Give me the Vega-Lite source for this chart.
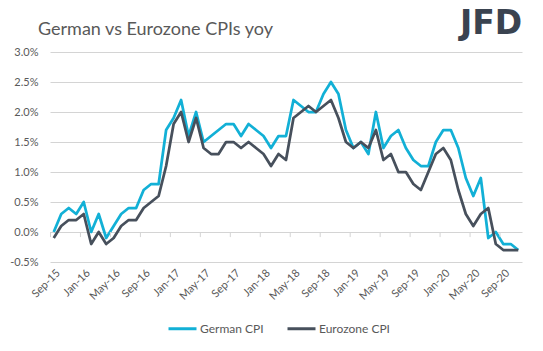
{
  "$schema": "https://vega.github.io/schema/vega-lite/v6.json",
  "width": 472,
  "height": 210,
  "autosize": {"type": "none"},
  "padding": {"left": 50, "top": 52, "right": 21, "bottom": 89},
  "background": "white",
  "title": {
    "text": "German vs Eurozone CPIs yoy",
    "anchor": "start",
    "frame": "group",
    "dx": -12,
    "dy": 49,
    "offset": 18,
    "font": "Lato",
    "fontSize": 18,
    "fontWeight": "normal",
    "color": "#595959"
  },
  "config": {"view": {"stroke": null}},
  "resolve": {"axis": {"x": "independent", "y": "independent"}},
  "datasets": {
    "cpi": [
      {"month": "Sep-15", "series": "German CPI", "value": 0.0},
      {"month": "Oct-15", "series": "German CPI", "value": 0.3},
      {"month": "Nov-15", "series": "German CPI", "value": 0.4},
      {"month": "Dec-15", "series": "German CPI", "value": 0.3},
      {"month": "Jan-16", "series": "German CPI", "value": 0.5},
      {"month": "Feb-16", "series": "German CPI", "value": 0.0},
      {"month": "Mar-16", "series": "German CPI", "value": 0.3},
      {"month": "Apr-16", "series": "German CPI", "value": -0.1},
      {"month": "May-16", "series": "German CPI", "value": 0.1},
      {"month": "Jun-16", "series": "German CPI", "value": 0.3},
      {"month": "Jul-16", "series": "German CPI", "value": 0.4},
      {"month": "Aug-16", "series": "German CPI", "value": 0.4},
      {"month": "Sep-16", "series": "German CPI", "value": 0.7},
      {"month": "Oct-16", "series": "German CPI", "value": 0.8},
      {"month": "Nov-16", "series": "German CPI", "value": 0.8},
      {"month": "Dec-16", "series": "German CPI", "value": 1.7},
      {"month": "Jan-17", "series": "German CPI", "value": 1.9},
      {"month": "Feb-17", "series": "German CPI", "value": 2.2},
      {"month": "Mar-17", "series": "German CPI", "value": 1.6},
      {"month": "Apr-17", "series": "German CPI", "value": 2.0},
      {"month": "May-17", "series": "German CPI", "value": 1.5},
      {"month": "Jun-17", "series": "German CPI", "value": 1.6},
      {"month": "Jul-17", "series": "German CPI", "value": 1.7},
      {"month": "Aug-17", "series": "German CPI", "value": 1.8},
      {"month": "Sep-17", "series": "German CPI", "value": 1.8},
      {"month": "Oct-17", "series": "German CPI", "value": 1.6},
      {"month": "Nov-17", "series": "German CPI", "value": 1.8},
      {"month": "Dec-17", "series": "German CPI", "value": 1.7},
      {"month": "Jan-18", "series": "German CPI", "value": 1.6},
      {"month": "Feb-18", "series": "German CPI", "value": 1.4},
      {"month": "Mar-18", "series": "German CPI", "value": 1.6},
      {"month": "Apr-18", "series": "German CPI", "value": 1.6},
      {"month": "May-18", "series": "German CPI", "value": 2.2},
      {"month": "Jun-18", "series": "German CPI", "value": 2.1},
      {"month": "Jul-18", "series": "German CPI", "value": 2.0},
      {"month": "Aug-18", "series": "German CPI", "value": 2.0},
      {"month": "Sep-18", "series": "German CPI", "value": 2.3},
      {"month": "Oct-18", "series": "German CPI", "value": 2.5},
      {"month": "Nov-18", "series": "German CPI", "value": 2.3},
      {"month": "Dec-18", "series": "German CPI", "value": 1.7},
      {"month": "Jan-19", "series": "German CPI", "value": 1.4},
      {"month": "Feb-19", "series": "German CPI", "value": 1.5},
      {"month": "Mar-19", "series": "German CPI", "value": 1.3},
      {"month": "Apr-19", "series": "German CPI", "value": 2.0},
      {"month": "May-19", "series": "German CPI", "value": 1.4},
      {"month": "Jun-19", "series": "German CPI", "value": 1.6},
      {"month": "Jul-19", "series": "German CPI", "value": 1.7},
      {"month": "Aug-19", "series": "German CPI", "value": 1.4},
      {"month": "Sep-19", "series": "German CPI", "value": 1.2},
      {"month": "Oct-19", "series": "German CPI", "value": 1.1},
      {"month": "Nov-19", "series": "German CPI", "value": 1.1},
      {"month": "Dec-19", "series": "German CPI", "value": 1.5},
      {"month": "Jan-20", "series": "German CPI", "value": 1.7},
      {"month": "Feb-20", "series": "German CPI", "value": 1.7},
      {"month": "Mar-20", "series": "German CPI", "value": 1.4},
      {"month": "Apr-20", "series": "German CPI", "value": 0.9},
      {"month": "May-20", "series": "German CPI", "value": 0.6},
      {"month": "Jun-20", "series": "German CPI", "value": 0.9},
      {"month": "Jul-20", "series": "German CPI", "value": -0.1},
      {"month": "Aug-20", "series": "German CPI", "value": 0.0},
      {"month": "Sep-20", "series": "German CPI", "value": -0.2},
      {"month": "Oct-20", "series": "German CPI", "value": -0.2},
      {"month": "Nov-20", "series": "German CPI", "value": -0.3},
      {"month": "Sep-15", "series": "Eurozone CPI", "value": -0.1},
      {"month": "Oct-15", "series": "Eurozone CPI", "value": 0.1},
      {"month": "Nov-15", "series": "Eurozone CPI", "value": 0.2},
      {"month": "Dec-15", "series": "Eurozone CPI", "value": 0.2},
      {"month": "Jan-16", "series": "Eurozone CPI", "value": 0.3},
      {"month": "Feb-16", "series": "Eurozone CPI", "value": -0.2},
      {"month": "Mar-16", "series": "Eurozone CPI", "value": 0.0},
      {"month": "Apr-16", "series": "Eurozone CPI", "value": -0.2},
      {"month": "May-16", "series": "Eurozone CPI", "value": -0.1},
      {"month": "Jun-16", "series": "Eurozone CPI", "value": 0.1},
      {"month": "Jul-16", "series": "Eurozone CPI", "value": 0.2},
      {"month": "Aug-16", "series": "Eurozone CPI", "value": 0.2},
      {"month": "Sep-16", "series": "Eurozone CPI", "value": 0.4},
      {"month": "Oct-16", "series": "Eurozone CPI", "value": 0.5},
      {"month": "Nov-16", "series": "Eurozone CPI", "value": 0.6},
      {"month": "Dec-16", "series": "Eurozone CPI", "value": 1.1},
      {"month": "Jan-17", "series": "Eurozone CPI", "value": 1.8},
      {"month": "Feb-17", "series": "Eurozone CPI", "value": 2.0},
      {"month": "Mar-17", "series": "Eurozone CPI", "value": 1.5},
      {"month": "Apr-17", "series": "Eurozone CPI", "value": 1.9},
      {"month": "May-17", "series": "Eurozone CPI", "value": 1.4},
      {"month": "Jun-17", "series": "Eurozone CPI", "value": 1.3},
      {"month": "Jul-17", "series": "Eurozone CPI", "value": 1.3},
      {"month": "Aug-17", "series": "Eurozone CPI", "value": 1.5},
      {"month": "Sep-17", "series": "Eurozone CPI", "value": 1.5},
      {"month": "Oct-17", "series": "Eurozone CPI", "value": 1.4},
      {"month": "Nov-17", "series": "Eurozone CPI", "value": 1.5},
      {"month": "Dec-17", "series": "Eurozone CPI", "value": 1.4},
      {"month": "Jan-18", "series": "Eurozone CPI", "value": 1.3},
      {"month": "Feb-18", "series": "Eurozone CPI", "value": 1.1},
      {"month": "Mar-18", "series": "Eurozone CPI", "value": 1.3},
      {"month": "Apr-18", "series": "Eurozone CPI", "value": 1.2},
      {"month": "May-18", "series": "Eurozone CPI", "value": 1.9},
      {"month": "Jun-18", "series": "Eurozone CPI", "value": 2.0},
      {"month": "Jul-18", "series": "Eurozone CPI", "value": 2.1},
      {"month": "Aug-18", "series": "Eurozone CPI", "value": 2.0},
      {"month": "Sep-18", "series": "Eurozone CPI", "value": 2.1},
      {"month": "Oct-18", "series": "Eurozone CPI", "value": 2.2},
      {"month": "Nov-18", "series": "Eurozone CPI", "value": 1.9},
      {"month": "Dec-18", "series": "Eurozone CPI", "value": 1.5},
      {"month": "Jan-19", "series": "Eurozone CPI", "value": 1.4},
      {"month": "Feb-19", "series": "Eurozone CPI", "value": 1.5},
      {"month": "Mar-19", "series": "Eurozone CPI", "value": 1.4},
      {"month": "Apr-19", "series": "Eurozone CPI", "value": 1.7},
      {"month": "May-19", "series": "Eurozone CPI", "value": 1.2},
      {"month": "Jun-19", "series": "Eurozone CPI", "value": 1.3},
      {"month": "Jul-19", "series": "Eurozone CPI", "value": 1.0},
      {"month": "Aug-19", "series": "Eurozone CPI", "value": 1.0},
      {"month": "Sep-19", "series": "Eurozone CPI", "value": 0.8},
      {"month": "Oct-19", "series": "Eurozone CPI", "value": 0.7},
      {"month": "Nov-19", "series": "Eurozone CPI", "value": 1.0},
      {"month": "Dec-19", "series": "Eurozone CPI", "value": 1.3},
      {"month": "Jan-20", "series": "Eurozone CPI", "value": 1.4},
      {"month": "Feb-20", "series": "Eurozone CPI", "value": 1.2},
      {"month": "Mar-20", "series": "Eurozone CPI", "value": 0.7},
      {"month": "Apr-20", "series": "Eurozone CPI", "value": 0.3},
      {"month": "May-20", "series": "Eurozone CPI", "value": 0.1},
      {"month": "Jun-20", "series": "Eurozone CPI", "value": 0.3},
      {"month": "Jul-20", "series": "Eurozone CPI", "value": 0.4},
      {"month": "Aug-20", "series": "Eurozone CPI", "value": -0.2},
      {"month": "Sep-20", "series": "Eurozone CPI", "value": -0.3},
      {"month": "Oct-20", "series": "Eurozone CPI", "value": -0.3},
      {"month": "Nov-20", "series": "Eurozone CPI", "value": -0.3}
    ],
    "ticks": [
      {"month": "Sep-15"}, {"month": "Jan-16"}, {"month": "May-16"}, {"month": "Sep-16"},
      {"month": "Jan-17"}, {"month": "May-17"}, {"month": "Sep-17"}, {"month": "Jan-18"},
      {"month": "May-18"}, {"month": "Sep-18"}, {"month": "Jan-19"}, {"month": "May-19"},
      {"month": "Sep-19"}, {"month": "Jan-20"}, {"month": "May-20"}, {"month": "Sep-20"}
    ],
    "logo": [{"text": "JFD"}]
  },
  "layer": [
    {
      "data": {"name": "cpi"},
      "mark": {"type": "line", "strokeWidth": 2.75, "strokeJoin": "round"},
      "encoding": {
        "x": {
          "field": "month",
          "type": "ordinal",
          "scale": {
            "type": "band",
            "paddingInner": 0,
            "paddingOuter": 0,
            "domain": ["Sep-15","Oct-15","Nov-15","Dec-15","Jan-16","Feb-16","Mar-16","Apr-16","May-16","Jun-16","Jul-16","Aug-16","Sep-16","Oct-16","Nov-16","Dec-16","Jan-17","Feb-17","Mar-17","Apr-17","May-17","Jun-17","Jul-17","Aug-17","Sep-17","Oct-17","Nov-17","Dec-17","Jan-18","Feb-18","Mar-18","Apr-18","May-18","Jun-18","Jul-18","Aug-18","Sep-18","Oct-18","Nov-18","Dec-18","Jan-19","Feb-19","Mar-19","Apr-19","May-19","Jun-19","Jul-19","Aug-19","Sep-19","Oct-19","Nov-19","Dec-19","Jan-20","Feb-20","Mar-20","Apr-20","May-20","Jun-20","Jul-20","Aug-20","Sep-20","Oct-20","Nov-20"]
          },
          "axis": {
            "values": ["Sep-15","Jan-16","May-16","Sep-16","Jan-17","May-17","Sep-17","Jan-18","May-18","Sep-18","Jan-19","May-19","Sep-19","Jan-20","May-20","Sep-20"],
            "bandPosition": 0,
            "labelAngle": -45,
            "labelAlign": "right",
            "labelBaseline": "middle",
            "labelPadding": 9,
            "labelOffset": 5,
            "labelOverlap": false,
            "labelBound": false,
            "labelFont": "Lato",
            "labelFontSize": 11,
            "labelColor": "#595959",
            "domain": false,
            "ticks": false,
            "grid": false,
            "title": null
          }
        },
        "y": {
          "field": "value",
          "type": "quantitative",
          "scale": {"domain": [-0.5, 3.0], "nice": false, "zero": false},
          "axis": {
            "values": [-0.5, 0, 0.5, 1, 1.5, 2, 2.5, 3],
            "labelExpr": "(datum.value < 0 ? '-' : '') + format(abs(datum.value), '.1f') + '%'",
            "labelOverlap": false,
            "labelPadding": 12,
            "labelFont": "Lato",
            "labelFontSize": 11,
            "labelColor": "#595959",
            "domain": false,
            "ticks": false,
            "grid": true,
            "gridColor": "#D4D4D4",
            "gridWidth": 1,
            "gridOpacity": 1,
            "zindex": 0,
            "title": null
          }
        },
        "color": {
          "field": "series",
          "type": "nominal",
          "scale": {"domain": ["German CPI", "Eurozone CPI"], "range": ["#12B0D6", "#47505C"]},
          "legend": {
            "orient": "none",
            "legendX": 117,
            "legendY": 261,
            "direction": "horizontal",
            "title": null,
            "padding": 0,
            "symbolType": "stroke",
            "symbolSize": 784,
            "symbolStrokeWidth": 3,
            "labelFont": "Lato",
            "labelFontSize": 12,
            "labelColor": "#595959",
            "labelOffset": 2,
            "columnPadding": 17
          }
        }
      }
    },
    {
      "data": {"name": "ticks"},
      "mark": {"type": "rule", "color": "#D4D4D4", "strokeWidth": 1, "xOffset": 0.5},
      "encoding": {
        "x": {"field": "month", "type": "ordinal", "bandPosition": 0, "axis": null},
        "y": {"datum": 0, "type": "quantitative", "axis": null},
        "y2": {"datum": -0.085}
      }
    },
    {
      "data": {"name": "logo"},
      "mark": {"type": "text", "font": "DejaVu Sans", "fontWeight": "bold", "fontSize": 33, "color": "#3A4350", "align": "right", "baseline": "alphabetic", "dx": 4},
      "encoding": {
        "x": {"datum": "Nov-20", "type": "ordinal", "axis": null},
        "y": {"datum": 3.3, "type": "quantitative", "axis": null},
        "text": {"field": "text"}
      }
    }
  ]
}
